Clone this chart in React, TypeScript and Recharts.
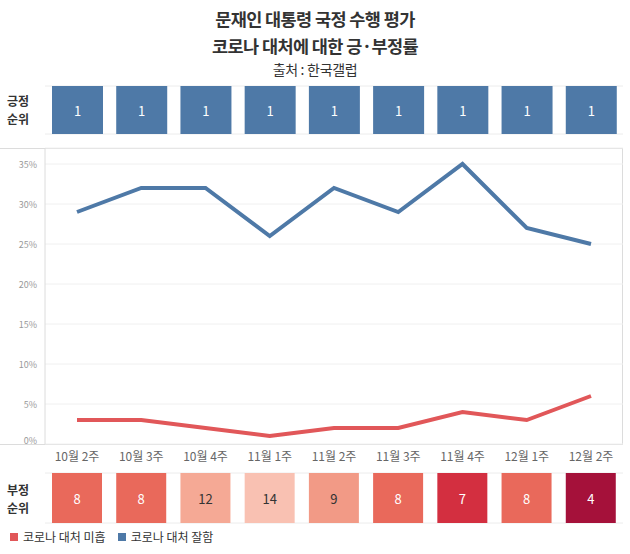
import React from "react";
import {
  LineChart,
  Line,
  BarChart,
  Bar,
  Cell,
  LabelList,
  XAxis,
  YAxis,
  CartesianGrid,
} from "recharts";

const FONT = '"Noto Sans CJK KR", "Noto Sans", sans-serif';

const weeks = [
  "10월 2주",
  "10월 3주",
  "10월 4주",
  "11월 1주",
  "11월 2주",
  "11월 3주",
  "11월 4주",
  "12월 1주",
  "12월 2주",
];
// 코로나 대처 잘함 / 미흡 (%)
const goodRates = [29, 32, 32, 26, 32, 29, 35, 27, 25];
const badRates = [3, 3, 2, 1, 2, 2, 4, 3, 6];
// 순위
const goodRanks = [1, 1, 1, 1, 1, 1, 1, 1, 1];
const badRanks = [8, 8, 12, 14, 9, 8, 7, 8, 4];
const yTicks = [0, 5, 10, 15, 20, 25, 30, 35];

const BLUE = "#4e79a7";
const RED = "#e15759";
const badRankColors: { [k: number]: string } = {
  4: "#a5113a",
  7: "#d32f40",
  8: "#e9695b",
  9: "#f29a86",
  12: "#f5a995",
  14: "#f9c1b2",
};

const lineData = weeks.map((w, i) => ({
  week: w,
  good: goodRates[i],
  bad: badRates[i],
}));
const goodRankData = weeks.map((w, i) => ({ week: w, rank: goodRanks[i] }));
const badRankData = weeks.map((w, i) => ({ week: w, rank: badRanks[i] }));

const rankLabel = (dark: (v: number) => boolean) => (p: any) => (
  <text
    x={p.x + p.width / 2}
    y={p.y + p.height / 2}
    textAnchor="middle"
    dominantBaseline="central"
    fontSize={13}
    fontFamily={FONT}
    fill={dark(Number(p.value)) ? "#333" : "#fff"}
  >
    {p.value}
  </text>
);

const RankRow = (props: {
  data: Array<{ week: string; rank: number }>;
  height: number;
  barSize: number;
  color: (rank: number) => string;
  dark: (v: number) => boolean;
}) => (
  <BarChart
    width={630}
    height={props.height}
    data={props.data}
    margin={{ top: 1, right: 7, left: 45, bottom: 1 }}
  >
    <CartesianGrid vertical={false} stroke="#ececec" />
    <XAxis dataKey="week" hide />
    <YAxis hide domain={[0, 1]} ticks={[0, 1]} />
    <Bar dataKey={() => 1} barSize={props.barSize} isAnimationActive={false}>
      {props.data.map((d) => (
        <Cell key={d.week} fill={props.color(d.rank)} />
      ))}
      <LabelList dataKey="rank" content={rankLabel(props.dark)} />
    </Bar>
  </BarChart>
);

const YTick = (p: any) => (
  <text
    x={p.x}
    y={p.payload.value === 0 ? p.y - 4 : p.y}
    textAnchor="end"
    dominantBaseline="central"
    fontSize={9}
    fontFamily={FONT}
    fill="#999"
  >
    {p.payload.value}%
  </text>
);

const sideLabel: React.CSSProperties = {
  position: "absolute",
  left: 7,
  fontSize: 12,
  fontWeight: 600,
  lineHeight: "18px",
  color: "#333",
};

export default function App() {
  return (
    <div
      style={{
        position: "absolute",
        left: 0,
        top: 0,
        width: 630,
        height: 554,
        background: "#fff",
        fontFamily: FONT,
        overflow: "hidden",
      }}
    >
      <div
        style={{
          position: "absolute",
          top: 5,
          width: 630,
          textAlign: "center",
          fontSize: 17.5,
          fontWeight: 700,
          letterSpacing: -0.6,
          lineHeight: "27px",
          color: "#333",
        }}
      >
        문재인 대통령 국정 수행 평가
        <br />
        코로나 대처에 대한 긍·부정률
      </div>
      <div
        style={{
          position: "absolute",
          top: 58,
          width: 630,
          textAlign: "center",
          fontSize: 14,
          letterSpacing: -0.3,
          lineHeight: "22px",
          color: "#333",
        }}
      >
        출처 : 한국갤럽
      </div>

      <div style={{ ...sideLabel, top: 92 }}>
        긍정
        <br />
        순위
      </div>
      <div style={{ position: "absolute", left: 0, top: 85 }}>
        <RankRow
          data={goodRankData}
          height={50}
          barSize={51}
          color={() => BLUE}
          dark={() => false}
        />
      </div>

      <div
        style={{
          position: "absolute",
          left: 0,
          top: 148,
          width: 622,
          height: 295,
          borderTop: "1px solid #dcdcdc",
          borderRight: "1px solid #dcdcdc",
          borderBottom: "1px solid #dcdcdc",
        }}
      />
      <div style={{ position: "absolute", left: 0, top: 140 }}>
        <LineChart
          width={630}
          height={330}
          data={lineData}
          margin={{ top: 8, right: 7, left: 0, bottom: 0 }}
        >
          <CartesianGrid vertical={false} stroke="#f0f0f0" />
          <XAxis
            dataKey="week"
            height={26}
            padding={{ left: 32, right: 32 }}
            axisLine={false}
            tickLine={false}
            interval={0}
            tick={{ fontSize: 12, fill: "#666", fontFamily: FONT }}
          />
          <YAxis
            width={45}
            domain={[0, 37]}
            ticks={yTicks}
            axisLine={{ stroke: "#dcdcdc" }}
            tickLine={false}
            tick={<YTick />}
          />
          <Line
            dataKey="bad"
            stroke={RED}
            strokeWidth={4}
            dot={false}
            type="linear"
            isAnimationActive={false}
          />
          <Line
            dataKey="good"
            stroke={BLUE}
            strokeWidth={4}
            dot={false}
            type="linear"
            isAnimationActive={false}
          />
        </LineChart>
      </div>

      <div style={{ ...sideLabel, top: 481 }}>
        부정
        <br />
        순위
      </div>
      <div style={{ position: "absolute", left: 0, top: 472 }}>
        <RankRow
          data={badRankData}
          height={52}
          barSize={50}
          color={(r) => badRankColors[r]}
          dark={(v) => v > 8}
        />
      </div>

      <div
        style={{
          position: "absolute",
          top: 529,
          left: 10,
          display: "flex",
          alignItems: "center",
          fontSize: 12,
          color: "#333",
          lineHeight: "16px",
        }}
      >
        <span style={{ width: 8, height: 8, background: RED, marginRight: 5 }} />
        <span style={{ marginRight: 12 }}>코로나 대처 미흡</span>
        <span style={{ width: 8, height: 8, background: BLUE, marginRight: 5 }} />
        <span>코로나 대처 잘함</span>
      </div>
    </div>
  );
}
